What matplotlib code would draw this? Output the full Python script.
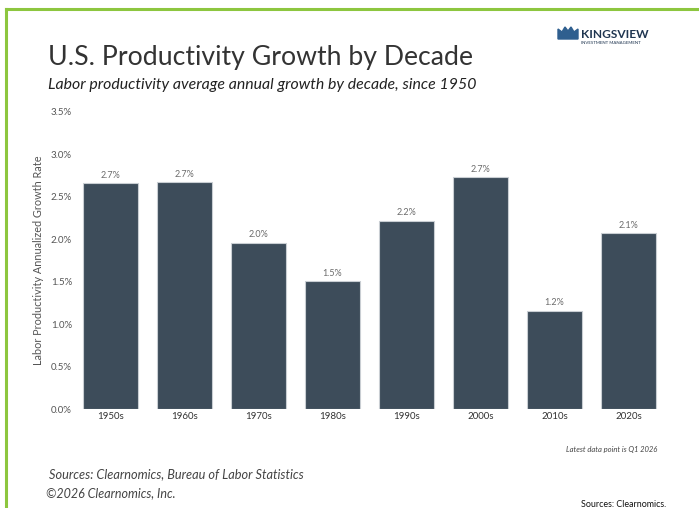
import matplotlib
matplotlib.use("Agg")
import matplotlib.pyplot as plt
from matplotlib.patches import Polygon
from matplotlib.lines import Line2D

decades = ["1950s", "1960s", "1970s", "1980s", "1990s", "2000s", "2010s", "2020s"]
growth = [2.66, 2.67, 1.96, 1.51, 2.22, 2.73, 1.16, 2.07]
yticks = [0.0, 0.5, 1.0, 1.5, 2.0, 2.5, 3.0, 3.5]

plt.rcParams['font.family'] = ['Lato', 'DejaVu Sans']

fig = plt.figure(figsize=(6.99, 5.08), dpi=100)
ax = fig.add_axes([0.105, 0.194, 0.847, 0.586])

bars = ax.bar(range(len(decades)), growth, width=0.743, color="#3d4c5a",
              edgecolor="#c9ced3", linewidth=0.8)
for b, v in zip(bars, growth):
    ax.text(b.get_x() + b.get_width() / 2, v + 0.04, f"{v:.1f}%",
            ha="center", va="bottom", fontsize=6.5, color="#6b6b6b")

ax.set_xlim(-0.5, len(decades) - 0.5)
ax.set_ylim(0, 3.5)
ax.set_xticks(range(len(decades)))
ax.set_xticklabels(decades, fontsize=7, color="#333333")
ax.set_yticks(yticks)
ax.set_yticklabels([f"{t:.1f}%" for t in yticks], fontsize=7, color="#555555")
ax.tick_params(length=0, pad=2)
ax.tick_params(axis="y", pad=1)
for s in ax.spines.values():
    s.set_visible(False)
ax.set_ylabel("Labor Productivity Annualized Growth Rate", fontsize=7.8,
              color="#555555", labelpad=5)

# green frame
fig.add_artist(Line2D([0.008, 0.008], [0, 0.982], color="#8dc63f", lw=2.2,
                      transform=fig.transFigure))
fig.add_artist(Line2D([0.008, 1.0], [0.982, 0.982], color="#8dc63f", lw=2.2,
                      transform=fig.transFigure))

fig.text(0.068, 1 - 65 / 508, "U.S. Productivity Growth by Decade", fontsize=19.2,
         color="#333333", va="baseline")
fig.text(0.069, 1 - 89 / 508, "Labor productivity average annual growth by decade, since 1950",
         fontsize=11.4, style="italic", color="#222222", va="baseline")

# logo
crown = [(558, 39), (558, 29), (562, 32), (565, 27), (568, 31), (571, 27),
         (574, 32), (578, 29), (578, 39)]
fig.add_artist(Polygon([(x / 699, 1 - y / 508) for x, y in crown], closed=True,
                       color="#2f5f8f", transform=fig.transFigure))
fig.text(581 / 699, 1 - 38 / 508, "KINGSVIEW", fontsize=8.6, fontweight="bold",
         color="#1f3550", va="baseline")
fig.text(581 / 699, 1 - 43.5 / 508, "INVESTMENT MANAGEMENT", fontsize=3.2,
         color="#1f3550", va="baseline")

fig.text(0.941, 1 - 452 / 508, "Latest data point is Q1 2026", fontsize=5.5,
         style="italic", color="#444444", ha="right", va="baseline")
fig.text(0.070, 1 - 478 / 508, "Sources: Clearnomics, Bureau of Labor Statistics",
         fontsize=9.2, style="italic", color="#444444", va="baseline")
fig.text(0.066, 1 - 497 / 508, "©2026 Clearnomics, Inc.", fontsize=9.0,
         style="italic", color="#444444", va="baseline")
fig.text(0.831, 0.002, "Sources: Clearnomics.", fontsize=6.4,
         color="#111111", va="baseline")

fig.savefig("out.png", dpi=100)
